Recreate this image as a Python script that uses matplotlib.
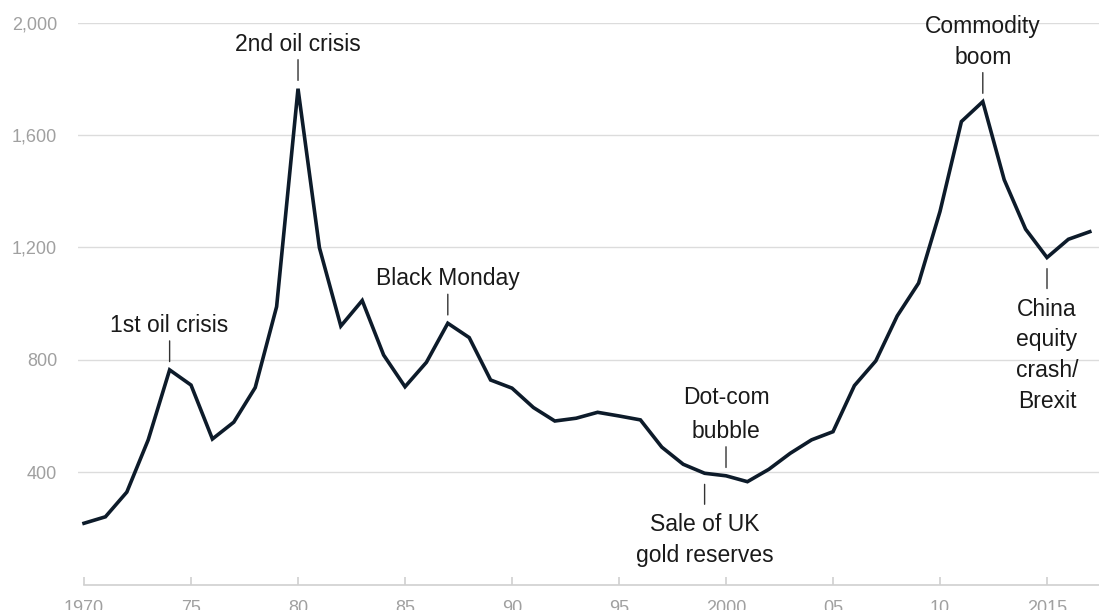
import matplotlib
matplotlib.use('Agg')
import matplotlib.pyplot as plt

# Datos
years = list(range(1970, 2018))
values = [218, 241, 329, 515, 764, 710, 518, 578, 701, 989,
          1765, 1199, 920, 1011, 817, 704, 791, 930, 879, 728,
          699, 630, 582, 592, 613, 600, 586, 489, 428, 396,
          387, 366, 410, 467, 515, 544, 708, 796, 956, 1073,
          1328, 1648, 1719, 1441, 1265, 1164, 1229, 1256]

yticks = [400, 800, 1200, 1600, 2000]
ytick_labels = ['400', '800', '1,200', '1,600', '2,000']
xticks = [1970, 1975, 1980, 1985, 1990, 1995, 2000, 2005, 2010, 2015]
xtick_labels = ['1970', '75', '80', '85', '90', '95', '2000', '05', '10', '2015']

# (anio, texto, arriba/abajo, interlineado)
events = [
    (1974, '1st oil crisis', 'above', 1.45),
    (1980, '2nd oil crisis', 'above', 1.45),
    (1987, 'Black Monday', 'above', 1.45),
    (2000, 'Dot-com\nbubble', 'above', 1.6),
    (1999, 'Sale of UK\ngold reserves', 'below', 1.45),
    (2012, 'Commodity\nboom', 'above', 1.45),
    (2015, 'China\nequity\ncrash/\nBrexit', 'below', 1.43),
]

plt.rcParams['font.family'] = ['Liberation Sans', 'DejaVu Sans']

fig = plt.figure(figsize=(10.99, 6.10), dpi=100)
ax = fig.add_axes([0.071, 0.0418, 0.929, 0.921])

ax.plot(years, values, color='#0d1b2a', lw=2.6, solid_joinstyle='miter', zorder=3)

ax.set_xlim(1969.72, 2017.43)
ax.set_ylim(0, 2000)

ax.set_yticks(yticks)
ax.set_yticklabels(ytick_labels)
ax.set_xticks(xticks)
ax.set_xticklabels(xtick_labels)
ax.grid(axis='y', color='#dcdcdc', lw=1)
ax.set_axisbelow(True)

for s in ['top', 'right', 'left']:
    ax.spines[s].set_visible(False)
ax.spines['bottom'].set_color('#d0d0d0')
ax.spines['bottom'].set_linewidth(1.2)
ax.spines['bottom'].set_bounds(1970, 2017.43)

ax.tick_params(axis='y', length=0, pad=15, labelsize=13, labelcolor='#a0a0a0')
ax.tick_params(axis='x', direction='in', length=6, width=1.2, color='#d0d0d0',
               pad=11, labelsize=13, labelcolor='#a0a0a0')

vals = dict(zip(years, values))
for yr, label, side, ls in events:
    v = vals[yr]
    if side == 'above':
        ax.annotate('', xy=(yr, v), xytext=(0, 29), textcoords='offset pixels',
                    arrowprops=dict(arrowstyle='-', color='#333333', lw=1,
                                    shrinkA=0, shrinkB=6))
        ax.annotate(label, xy=(yr, v), xytext=(0, 33), textcoords='offset pixels',
                    ha='center', va='bottom', fontsize=16.5, color='#1a1a1a',
                    linespacing=ls, multialignment='center')
    else:
        ax.annotate('', xy=(yr, v), xytext=(0, -31), textcoords='offset pixels',
                    arrowprops=dict(arrowstyle='-', color='#333333', lw=1,
                                    shrinkA=0, shrinkB=8))
        ax.annotate(label, xy=(yr, v), xytext=(0, -40), textcoords='offset pixels',
                    ha='center', va='top', fontsize=16.5, color='#1a1a1a',
                    linespacing=ls, multialignment='center')

fig.savefig('out.png', dpi=100)
